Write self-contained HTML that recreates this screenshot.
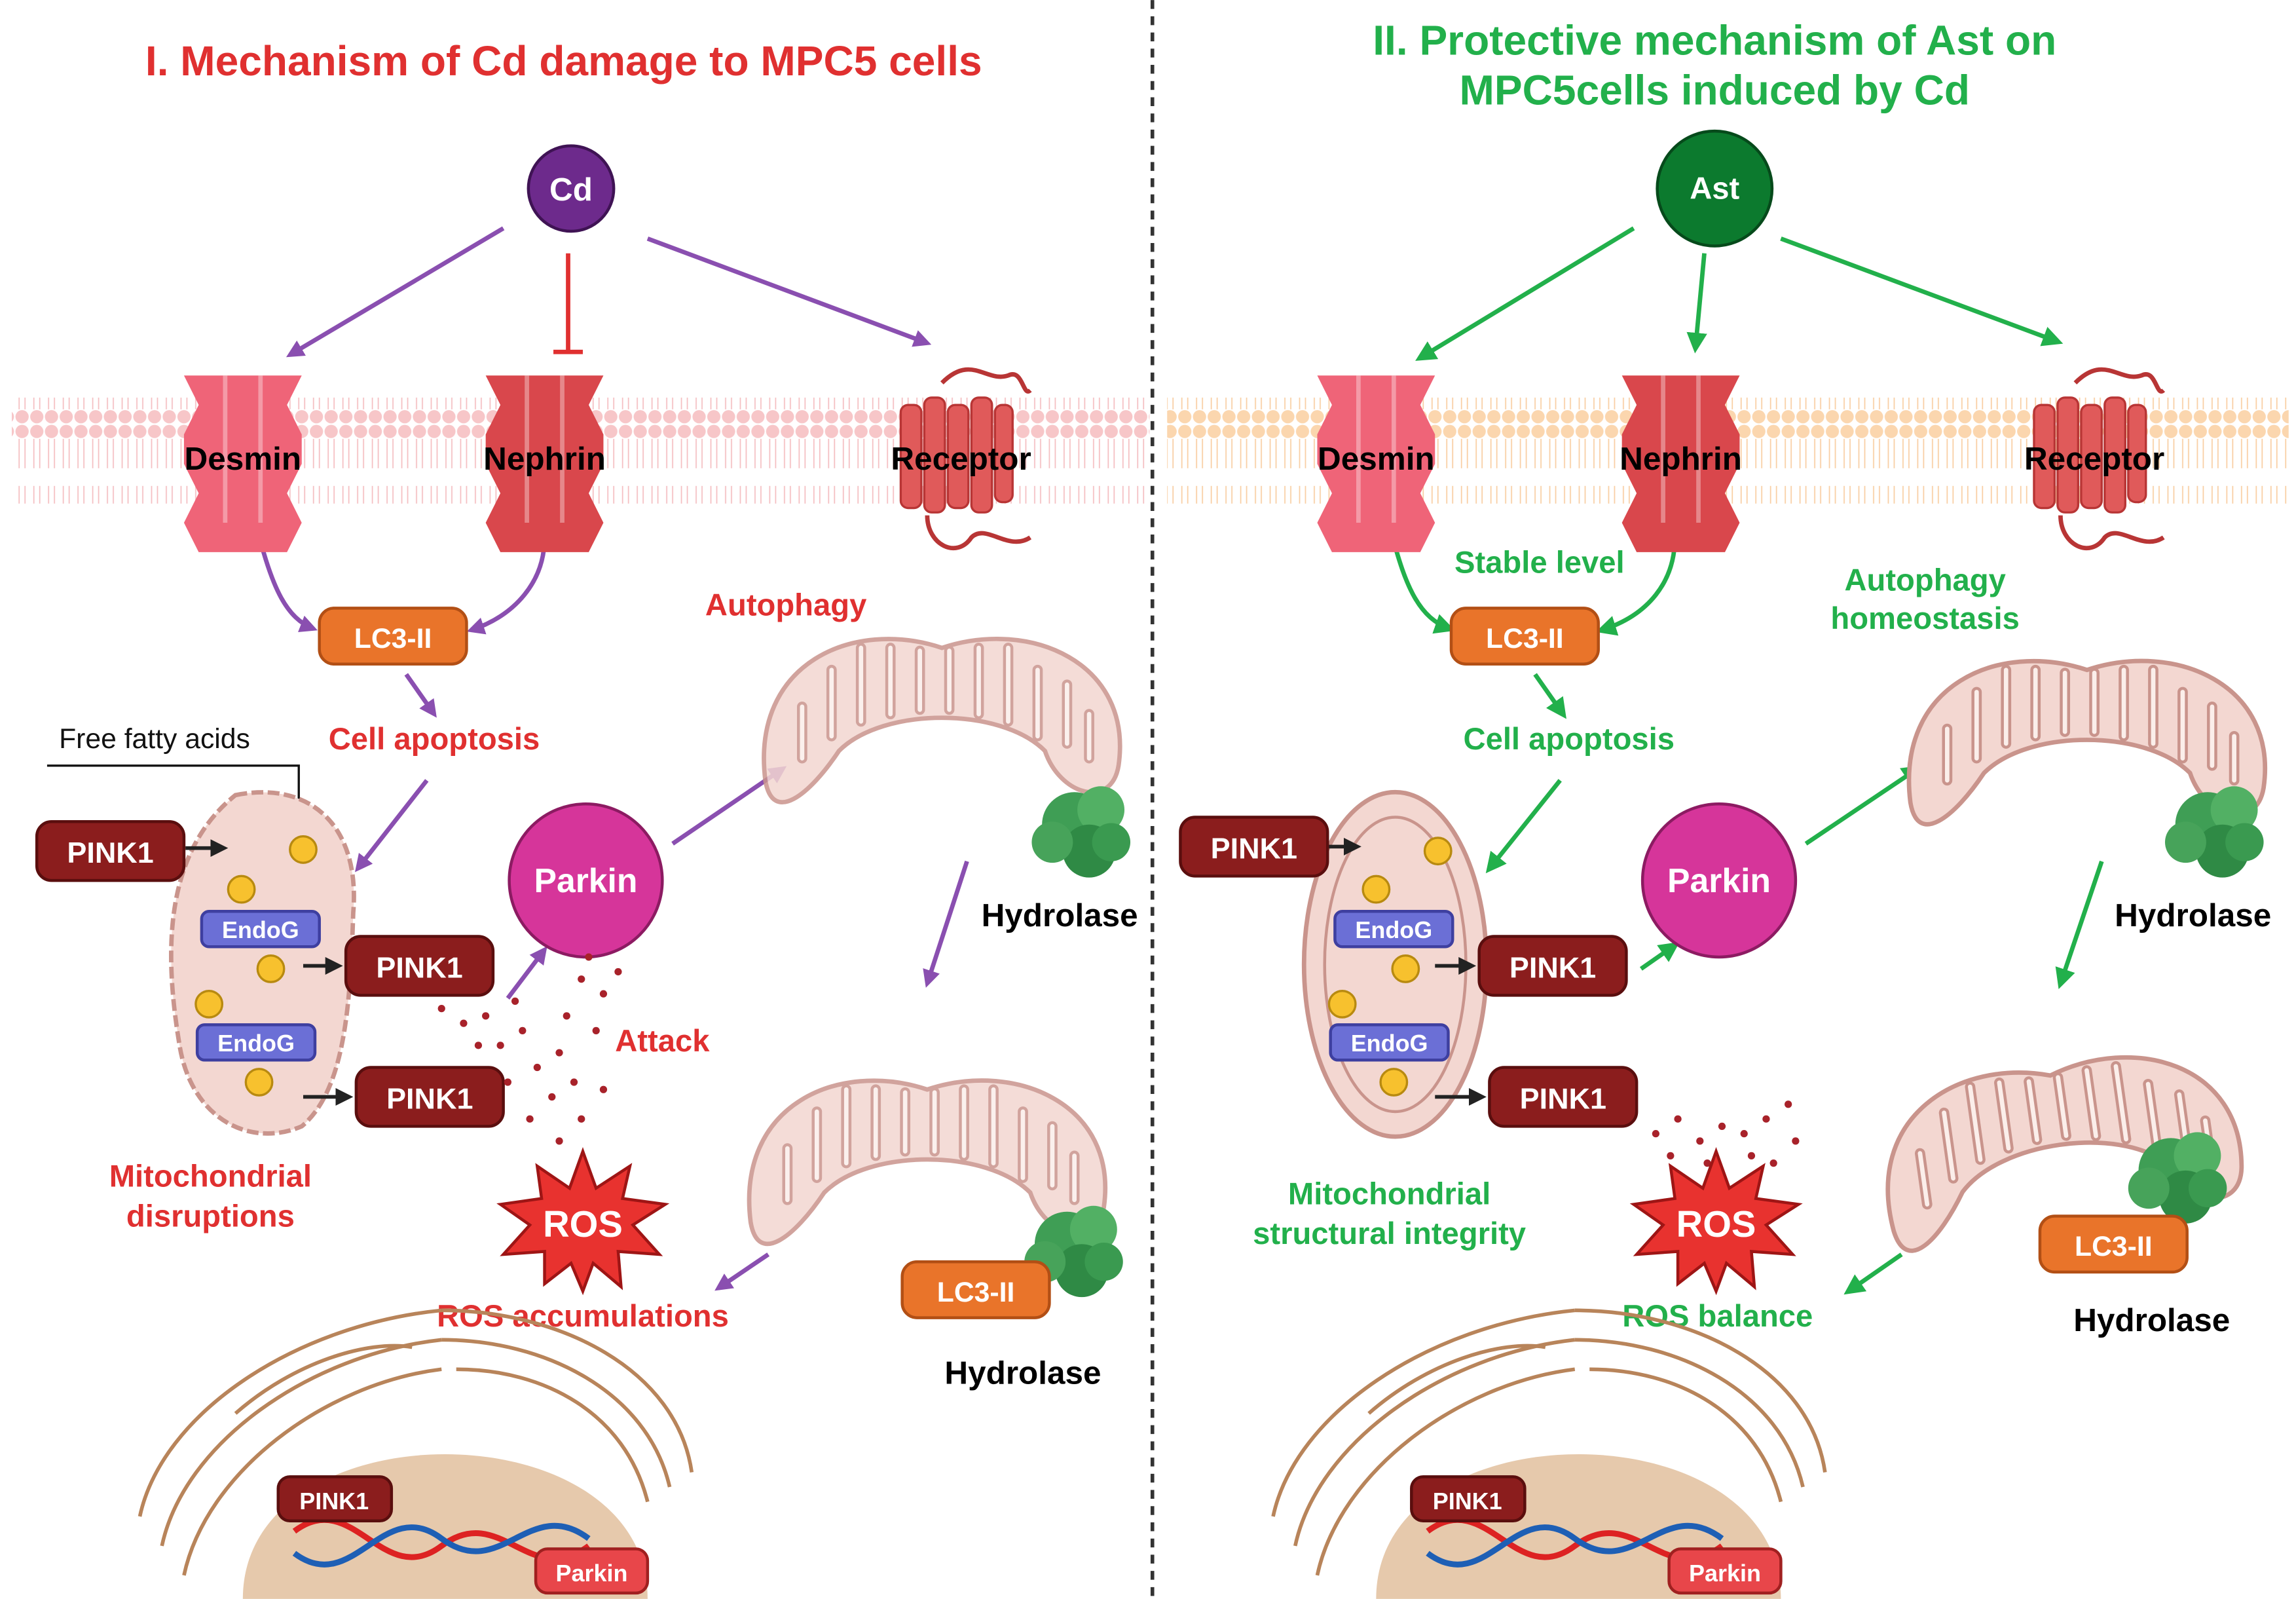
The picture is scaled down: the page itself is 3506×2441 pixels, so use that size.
<!DOCTYPE html>
<html><head><meta charset="utf-8">
<style>
html,body{margin:0;padding:0;background:#fff;}
svg{display:block;}
text{font-family:"Liberation Sans",sans-serif;font-weight:bold;}
</style></head>
<body>
<svg width="3506" height="2441" viewBox="0 0 1560 1086" xmlns="http://www.w3.org/2000/svg">
<defs>
<marker id="ap" markerWidth="12" markerHeight="12" refX="9" refY="6" orient="auto" markerUnits="userSpaceOnUse" viewBox="0 0 12 12"><path d="M0,0 L12,6 L0,12 z" fill="#8a4fb0"/></marker>
<marker id="ag" markerWidth="14" markerHeight="14" refX="10" refY="7" orient="auto" markerUnits="userSpaceOnUse" viewBox="0 0 14 14"><path d="M0,0 L14,7 L0,14 z" fill="#22b04b"/></marker>
<marker id="ak" markerWidth="12" markerHeight="12" refX="9" refY="6" orient="auto" markerUnits="userSpaceOnUse" viewBox="0 0 12 12"><path d="M0,0 L12,6 L0,12 z" fill="#222"/></marker>
<pattern id="mp" width="10" height="72" patternUnits="userSpaceOnUse"><circle cx="5" cy="5" r="4.5" fill="#f7c6c8"/><circle cx="5" cy="67" r="4.5" fill="#f7c6c8"/><path d="M3,10 L3,30 M7,10 L7,30 M3,42 L3,62 M7,42 L7,62" stroke="#f5c0c3" stroke-width="0.8"/></pattern>
<pattern id="mo" width="10" height="72" patternUnits="userSpaceOnUse"><circle cx="5" cy="5" r="4.5" fill="#fbd6ae"/><circle cx="5" cy="67" r="4.5" fill="#fbd6ae"/><path d="M3,10 L3,30 M7,10 L7,30 M3,42 L3,62 M7,42 L7,62" stroke="#f9cfa5" stroke-width="0.8"/></pattern>
<g id="chan"><path d="M-40,-50 h80 l-10,20 l10,20 v20 l-10,20 l10,20 l-10,20 h-60 l-10,-20 l10,-20 l-10,-20 v-20 l10,-20 z" /><path d="M-12,-50 v100 M12,-50 v100" stroke="#fff" stroke-opacity="0.35" stroke-width="3" fill="none"/></g>
<g id="rec" fill="#e05a5a" stroke="#b83535" stroke-width="1.5"><rect x="-38" y="-30" width="14" height="70" rx="5"/><rect x="-22" y="-35" width="14" height="78" rx="5"/><rect x="-6" y="-30" width="14" height="70" rx="5"/><rect x="10" y="-35" width="14" height="78" rx="5"/><rect x="26" y="-30" width="12" height="66" rx="5"/><path d="M-10,-45 c20,-20 30,0 45,-5 c10,-5 10,15 15,10" fill="none" stroke-width="3"/><path d="M-20,45 c0,20 20,30 30,15 c10,-10 25,10 40,0" fill="none" stroke-width="3"/></g>
<g id="pink1"><rect x="-50" y="-20" width="100" height="40" rx="10" fill="#8b1d1d" stroke="#5a0e0e" stroke-width="2"/><text x="0" y="8" font-size="20" fill="#fff" text-anchor="middle">PINK1</text></g>
<g id="endog"><rect x="-40" y="-12" width="80" height="24" rx="5" fill="#6b6fd6" stroke="#3e3fa0" stroke-width="2"/><text x="0" y="6" font-size="16" fill="#fff" text-anchor="middle">EndoG</text></g>
<g id="lc3"><rect x="-50" y="-19" width="100" height="38" rx="10" fill="#e9742a" stroke="#b24f15" stroke-width="2"/><text x="0" y="8" font-size="19" fill="#fff" text-anchor="middle">LC3-II</text></g>
<g id="ball"><circle r="9" fill="#f7c12e" stroke="#b88a10" stroke-width="1.5"/></g>
<g id="hyd"><circle cx="0" cy="0" r="22" fill="#3f9e55"/><circle cx="18" cy="-10" r="16" fill="#52b064"/><circle cx="10" cy="18" r="18" fill="#2f8a45"/><circle cx="-15" cy="12" r="14" fill="#47a35a"/><circle cx="25" cy="12" r="13" fill="#3a9a50"/></g>
<g id="mito"><path d="M-120,40 C-130,-40 -60,-70 0,-50 C60,-70 130,-40 120,30 C115,60 80,50 70,20 C40,-10 -40,-10 -70,20 C-90,50 -115,70 -120,40 z" fill="#f3d7d1" stroke="#c9948c" stroke-width="3"/><path d="M-95,25 v-35 M-75,10 v-45 M-55,0 v-50 M-35,-5 v-45 M-15,-8 v-40 M5,-8 v-40 M25,-5 v-45 M45,0 v-50 M65,10 v-45 M85,15 v-40 M100,25 v-30" stroke="#c9948c" stroke-width="7" stroke-linecap="round"/><path d="M-95,25 v-35 M-75,10 v-45 M-55,0 v-50 M-35,-5 v-45 M-15,-8 v-40 M5,-8 v-40 M25,-5 v-45 M45,0 v-50 M65,10 v-45 M85,15 v-40 M100,25 v-30" stroke="#fbeeea" stroke-width="3" stroke-linecap="round"/></g>
</defs>

<line x1="783" y1="0" x2="783" y2="1086" stroke="#333" stroke-width="2.5" stroke-dasharray="6,5"/>

<text x="383" y="51" font-size="28.5" fill="#e03030" text-anchor="middle">I. Mechanism of Cd damage to MPC5 cells</text>
<text x="1165" y="37" font-size="28.5" fill="#22b04b" text-anchor="middle">II. Protective mechanism of Ast on</text>
<text x="1165" y="71" font-size="28.5" fill="#22b04b" text-anchor="middle">MPC5cells induced by Cd</text>

<rect x="8" y="270" width="773" height="72" fill="url(#mp)"/>
<rect x="793" y="270" width="762" height="72" fill="url(#mo)"/>

<circle cx="388" cy="128" r="29" fill="#6d2a8c" stroke="#3f1354" stroke-width="2"/>
<text x="388" y="136" font-size="22" fill="#fff" text-anchor="middle">Cd</text>
<circle cx="1165" cy="128" r="39" fill="#0c7a2e" stroke="#064a1b" stroke-width="2"/>
<text x="1165" y="135" font-size="21" fill="#fff" text-anchor="middle">Ast</text>

<g stroke="#8a4fb0" stroke-width="3" fill="none">
<line x1="342" y1="155" x2="197" y2="241" marker-end="url(#ap)"/>
<line x1="440" y1="162" x2="630" y2="233" marker-end="url(#ap)"/>
<path d="M175,360 C185,400 195,420 213,427" marker-end="url(#ap)"/>
<path d="M370,365 C370,395 350,418 320,428" marker-end="url(#ap)"/>
<line x1="276" y1="458" x2="295" y2="485" marker-end="url(#ap)"/>
<line x1="290" y1="530" x2="243" y2="590" marker-end="url(#ap)"/>
<line x1="345" y1="678" x2="370" y2="645" marker-end="url(#ap)"/>
<line x1="457" y1="573" x2="532" y2="522" marker-end="url(#ap)"/>
<line x1="657" y1="585" x2="630" y2="668" marker-end="url(#ap)"/>
<line x1="522" y1="852" x2="488" y2="875" marker-end="url(#ap)"/>
</g>
<line x1="386" y1="172" x2="386" y2="238" stroke="#e03030" stroke-width="3"/>
<line x1="376" y1="239" x2="396" y2="239" stroke="#e03030" stroke-width="3"/>

<g stroke="#22b04b" stroke-width="3" fill="none">
<line x1="1110" y1="155" x2="965" y2="243" marker-end="url(#ag)"/>
<line x1="1158" y1="172" x2="1152" y2="236" marker-end="url(#ag)"/>
<line x1="1210" y1="162" x2="1398" y2="232" marker-end="url(#ag)"/>
<path d="M945,360 C955,400 965,420 985,427" marker-end="url(#ag)"/>
<path d="M1138,365 C1138,395 1120,418 1088,428" marker-end="url(#ag)"/>
<line x1="1043" y1="458" x2="1062" y2="485" marker-end="url(#ag)"/>
<line x1="1060" y1="530" x2="1012" y2="590" marker-end="url(#ag)"/>
<line x1="1115" y1="658" x2="1138" y2="642" marker-end="url(#ag)"/>
<line x1="1227" y1="573" x2="1303" y2="522" marker-end="url(#ag)"/>
<line x1="1428" y1="585" x2="1400" y2="668" marker-end="url(#ag)"/>
<line x1="1292" y1="852" x2="1256" y2="877" marker-end="url(#ag)"/>
</g>

<use href="#chan" x="165" y="305" fill="#ef6478"/>
<use href="#chan" x="370" y="305" fill="#d9474c"/>
<use href="#rec" x="650" y="305"/>
<use href="#chan" x="935" y="305" fill="#ef6478"/>
<use href="#chan" x="1142" y="305" fill="#d9474c"/>
<use href="#rec" x="1420" y="305"/>
<g font-size="22" fill="#000" text-anchor="middle">
<text x="165" y="319">Desmin</text><text x="370" y="319">Nephrin</text><text x="653" y="319">Receptor</text>
<text x="935" y="319">Desmin</text><text x="1142" y="319">Nephrin</text><text x="1423" y="319">Receptor</text>
</g>

<use href="#lc3" x="267" y="432"/>
<use href="#lc3" x="1036" y="432"/>

<g font-size="21" fill="#e03030" text-anchor="middle">
<text x="295" y="509">Cell apoptosis</text>
<text x="534" y="418">Autophagy</text>
<text x="450" y="714">Attack</text>
<text x="143" y="806">Mitochondrial</text>
<text x="143" y="833">disruptions</text>
<text x="396" y="901">ROS accumulations</text>
</g>
<text x="105" y="508" font-size="19" style="font-weight:normal" fill="#111" text-anchor="middle">Free fatty acids</text>
<path d="M32,520 H203 V570" stroke="#111" stroke-width="1.5" fill="none"/>

<g font-size="21" fill="#22b04b" text-anchor="middle">
<text x="1046" y="389">Stable level</text>
<text x="1308" y="401">Autophagy</text>
<text x="1308" y="427">homeostasis</text>
<text x="1066" y="509">Cell apoptosis</text>
<text x="944" y="818">Mitochondrial</text>
<text x="944" y="845">structural integrity</text>
<text x="1167" y="901">ROS balance</text>
</g>
<g font-size="22" fill="#000" text-anchor="middle">
<text x="720" y="629">Hydrolase</text>
<text x="695" y="940">Hydrolase</text>
<text x="1490" y="629">Hydrolase</text>
<text x="1462" y="904">Hydrolase</text>
</g>

<path d="M160,540 C210,530 245,560 240,620 C238,680 235,740 205,765 C170,780 130,760 122,710 C112,650 110,580 160,540 z" fill="#f3d7d1" stroke="#c9948c" stroke-width="3" stroke-dasharray="8,3"/>
<use href="#ball" x="206" y="577"/><use href="#ball" x="164" y="604"/><use href="#ball" x="184" y="658"/><use href="#ball" x="142" y="682"/><use href="#ball" x="176" y="735"/>
<use href="#endog" x="177" y="631"/><use href="#endog" x="174" y="708"/>
<use href="#pink1" x="75" y="578"/><use href="#pink1" x="285" y="656"/><use href="#pink1" x="292" y="745"/>
<g stroke="#222" stroke-width="2.5"><line x1="126" y1="576" x2="152" y2="576" marker-end="url(#ak)"/><line x1="206" y1="656" x2="230" y2="656" marker-end="url(#ak)"/><line x1="206" y1="745" x2="237" y2="745" marker-end="url(#ak)"/></g>

<ellipse cx="948" cy="655" rx="62" ry="117" fill="#f3d7d1" stroke="#c9948c" stroke-width="3"/>
<ellipse cx="948" cy="655" rx="48" ry="100" fill="none" stroke="#c9948c" stroke-width="2"/>
<use href="#ball" x="977" y="578"/><use href="#ball" x="935" y="604"/><use href="#ball" x="955" y="658"/><use href="#ball" x="912" y="682"/><use href="#ball" x="947" y="735"/>
<use href="#endog" x="947" y="631"/><use href="#endog" x="944" y="708"/>
<use href="#pink1" x="852" y="575"/><use href="#pink1" x="1055" y="656"/><use href="#pink1" x="1062" y="745"/>
<g stroke="#222" stroke-width="2.5"><line x1="903" y1="575" x2="922" y2="575" marker-end="url(#ak)"/><line x1="975" y1="656" x2="1000" y2="656" marker-end="url(#ak)"/><line x1="975" y1="745" x2="1007" y2="745" marker-end="url(#ak)"/></g>

<circle cx="398" cy="598" r="52" fill="#d6359a" stroke="#8c1b62" stroke-width="2"/>
<text x="398" y="606" font-size="23" fill="#fff" text-anchor="middle">Parkin</text>
<circle cx="1168" cy="598" r="52" fill="#d6359a" stroke="#8c1b62" stroke-width="2"/>
<text x="1168" y="606" font-size="23" fill="#fff" text-anchor="middle">Parkin</text>

<g fill="#a8222a">
<circle cx="300" cy="685" r="2.5"/><circle cx="315" cy="695" r="2.5"/><circle cx="330" cy="690" r="2.5"/><circle cx="340" cy="710" r="2.5"/><circle cx="355" cy="700" r="2.5"/><circle cx="365" cy="725" r="2.5"/><circle cx="380" cy="715" r="2.5"/><circle cx="375" cy="745" r="2.5"/><circle cx="390" cy="735" r="2.5"/><circle cx="395" cy="760" r="2.5"/><circle cx="405" cy="700" r="2.5"/><circle cx="410" cy="675" r="2.5"/><circle cx="395" cy="665" r="2.5"/><circle cx="385" cy="690" r="2.5"/><circle cx="360" cy="760" r="2.5"/><circle cx="380" cy="775" r="2.5"/><circle cx="410" cy="740" r="2.5"/><circle cx="325" cy="710" r="2.5"/><circle cx="350" cy="680" r="2.5"/><circle cx="420" cy="660" r="2.5"/><circle cx="400" cy="650" r="2.5"/><circle cx="345" cy="735" r="2.5"/>
<circle cx="1125" cy="770" r="2.5"/><circle cx="1140" cy="760" r="2.5"/><circle cx="1155" cy="775" r="2.5"/><circle cx="1170" cy="765" r="2.5"/><circle cx="1185" cy="770" r="2.5"/><circle cx="1200" cy="760" r="2.5"/><circle cx="1215" cy="750" r="2.5"/><circle cx="1190" cy="785" r="2.5"/><circle cx="1160" cy="790" r="2.5"/><circle cx="1220" cy="775" r="2.5"/><circle cx="1135" cy="785" r="2.5"/><circle cx="1205" cy="790" r="2.5"/>
</g>
<g id="ros" transform="translate(0,-8)"><path d="M396,790 L405,815 L428,800 L423,822 L452,826 L430,840 L448,860 L420,858 L422,882 L403,866 L396,885 L388,866 L370,880 L370,858 L342,860 L360,840 L340,826 L368,822 L365,800 L387,815 Z" fill="#e8322f" stroke="#9e1515" stroke-width="2"/>
<text x="396" y="848" font-size="25" fill="#fff" text-anchor="middle">ROS</text></g>
<use href="#ros" x="770" y="0"/>

<g transform="translate(640,490)" opacity="0.85"><use href="#mito"/></g>
<use href="#hyd" x="730" y="560"/>
<g transform="translate(630,790)" opacity="0.85"><use href="#mito"/></g>
<use href="#hyd" x="725" y="845"/>
<use href="#lc3" x="663" y="876"/>
<g transform="translate(1418,505)"><use href="#mito"/></g>
<use href="#hyd" x="1500" y="560"/>
<g transform="translate(1400,780) rotate(-8)"><use href="#mito"/></g>
<use href="#hyd" x="1475" y="795"/>
<use href="#lc3" x="1436" y="845"/>

<g id="nuc">
<path d="M165,1086 C165,955 440,955 440,1086 z" fill="#e6c9ac"/>
<g fill="none" stroke="#b8845a" stroke-width="2.5">
<path d="M95,1030 C110,960 200,900 300,890"/><path d="M110,1050 C125,980 210,920 300,910"/><path d="M125,1070 C140,1000 220,940 300,930"/>
<path d="M300,890 C380,890 460,930 470,1000"/><path d="M300,910 C370,910 440,945 455,1010"/><path d="M310,930 C370,930 425,960 440,1020"/>
<path d="M160,960 C200,925 250,910 280,915"/>
</g>
<path d="M200,1040 C240,1010 260,1080 300,1050 C340,1020 360,1080 400,1050" stroke="#d22" stroke-width="4" fill="none"/>
<path d="M200,1055 C240,1085 260,1015 300,1045 C340,1075 360,1015 400,1045" stroke="#1e5fb5" stroke-width="4" fill="none"/>
<rect x="189" y="1003" width="77" height="30" rx="8" fill="#8b1d1d" stroke="#5a0e0e" stroke-width="2"/><text x="227" y="1025" font-size="16" fill="#fff" text-anchor="middle">PINK1</text>
<rect x="364" y="1052" width="76" height="30" rx="8" fill="#e8464a" stroke="#a02020" stroke-width="2"/><text x="402" y="1074" font-size="16" fill="#fff" text-anchor="middle">Parkin</text>
</g>
<use href="#nuc" x="770" y="0"/>
</svg>
</body></html>
